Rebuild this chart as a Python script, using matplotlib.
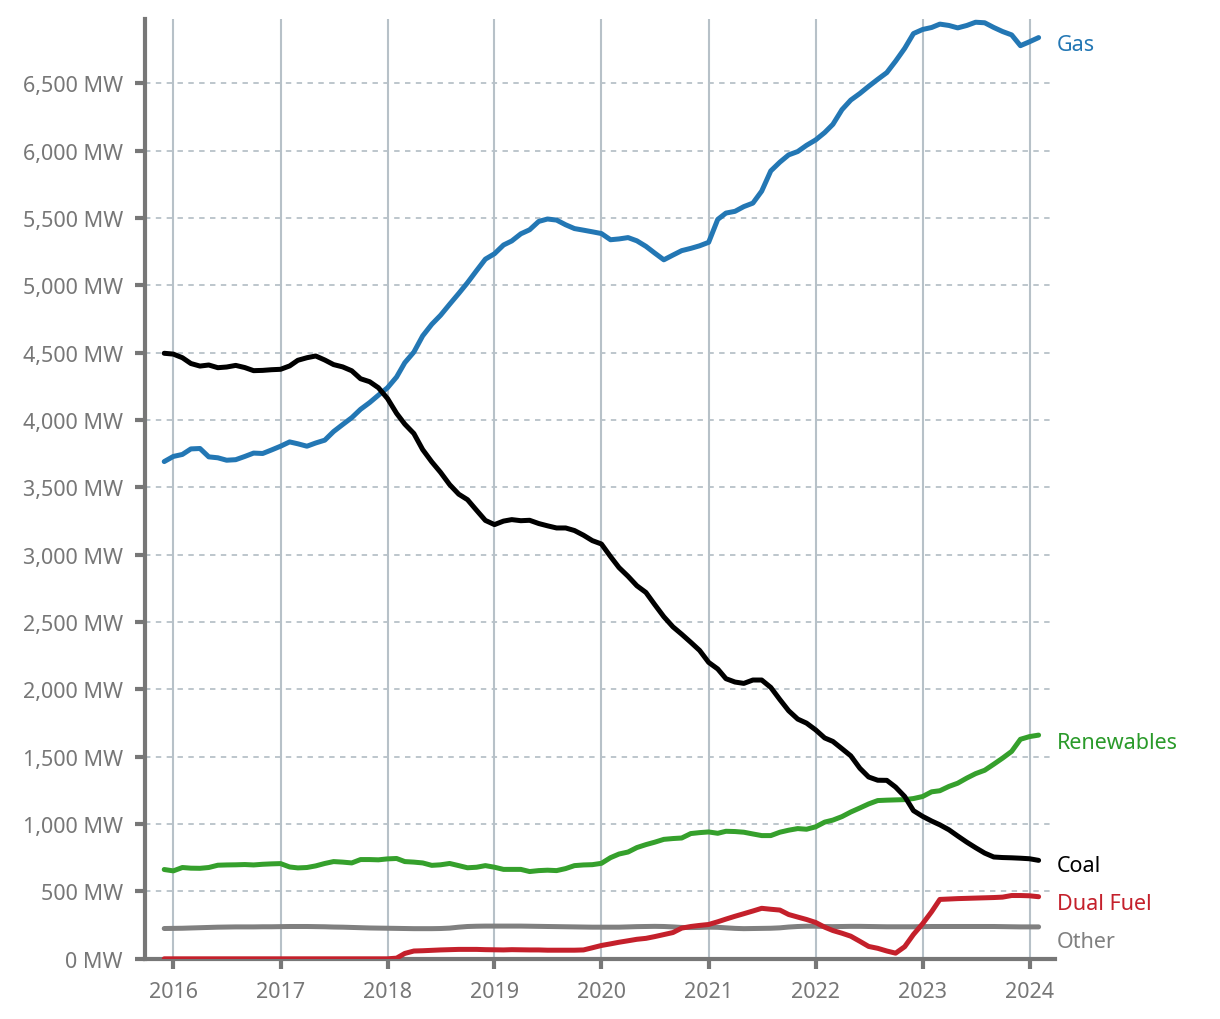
import numpy as np
import pandas as pd
import matplotlib
matplotlib.use("Agg")
from matplotlib import pyplot as plt
from matplotlib.ticker import FuncFormatter
import matplotlib.dates as mdates

plt.rcParams['font.family'] = ['Noto Sans', 'DejaVu Sans']

# monthly capacity, Dec 2015 .. Feb 2024 (MW)
months = pd.date_range("2015-12-01", periods=99, freq="MS")

gas = [3692, 3730, 3745, 3786, 3789, 3727, 3720, 3702, 3706, 3730,
       3755, 3752, 3778, 3806, 3838, 3824, 3806, 3830, 3851, 3915,
       3967, 4018, 4080, 4130, 4185, 4240, 4320, 4426, 4505, 4625,
       4711, 4778, 4860, 4940, 5020, 5110, 5195, 5235, 5300, 5330,
       5383, 5413, 5475, 5493, 5485, 5450, 5422, 5410, 5398, 5385,
       5339, 5345, 5355, 5331, 5290, 5240, 5190, 5225, 5258, 5275,
       5294, 5320, 5490, 5537, 5550, 5585, 5611, 5700, 5850, 5915,
       5969, 5994, 6040, 6080, 6135, 6196, 6305, 6376, 6425, 6478,
       6530, 6580, 6665, 6760, 6870, 6900, 6915, 6940, 6930, 6912,
       6930, 6954, 6950, 6915, 6885, 6860, 6780, 6809, 6840]

coal = [4496, 4490, 4463, 4420, 4401, 4409, 4389, 4394, 4406, 4390,
        4367, 4369, 4374, 4377, 4402, 4444, 4463, 4476, 4446, 4412,
        4395, 4366, 4307, 4285, 4240, 4160, 4050, 3970, 3900, 3781,
        3690, 3612, 3521, 3450, 3409, 3330, 3255, 3224, 3250, 3261,
        3253, 3256, 3232, 3215, 3199, 3199, 3180, 3145, 3105, 3080,
        2987, 2905, 2840, 2770, 2720, 2630, 2540, 2465, 2410, 2350,
        2290, 2201, 2152, 2080, 2055, 2045, 2070, 2070, 2015, 1925,
        1842, 1780, 1750, 1700, 1640, 1614, 1560, 1507, 1415, 1350,
        1326, 1325, 1275, 1205, 1100, 1058, 1023, 995, 958, 912,
        866, 825, 785, 756, 752, 750, 747, 743, 731]

renewables = [663, 653, 678, 673, 672, 678, 695, 697, 698, 700,
              697, 702, 705, 707, 682, 675, 678, 690, 708, 722,
              718, 712, 737, 737, 735, 742, 745, 722, 718, 712,
              694, 698, 708, 692, 676, 680, 692, 680, 664, 664,
              664, 648, 655, 658, 655, 670, 692, 697, 699, 709,
              751, 778, 793, 826, 848, 866, 887, 893, 897, 930,
              937, 942, 932, 947, 945, 940, 927, 915, 915, 940,
              955, 967, 962, 980, 1015, 1030, 1056, 1090, 1120, 1150,
              1175, 1178, 1180, 1182, 1190, 1205, 1240, 1248, 1280, 1304,
              1342, 1375, 1400, 1445, 1490, 1540, 1630, 1650, 1661]

dual_fuel = [0, 0, 0, 0, 0, 0, 0, 0, 0, 0,
             0, 0, 0, 0, 0, 0, 0, 0, 0, 0,
             0, 0, 0, 0, 0, 0, 5, 40, 58, 60,
             63, 66, 68, 70, 70, 70, 68, 67, 66, 68,
             67, 66, 66, 64, 64, 64, 64, 66, 82, 99,
             111, 123, 134, 145, 152, 165, 180, 195, 228, 240,
             248, 255, 275, 295, 316, 335, 355, 375, 368, 362,
             329, 310, 292, 270, 235, 210, 190, 168, 130, 92,
             78, 58, 42, 90, 181, 260, 350, 441, 444, 447,
             449, 451, 453, 455, 458, 470, 470, 468, 461]

other = [225, 226, 227, 229, 231, 233, 235, 236, 237, 237,
         237, 238, 238, 239, 240, 240, 240, 239, 238, 236,
         235, 233, 231, 229, 228, 227, 226, 225, 224, 224,
         224, 225, 228, 235, 240, 242, 243, 243, 243, 243,
         243, 242, 241, 240, 239, 238, 237, 236, 235, 235,
         235, 235, 237, 239, 240, 241, 240, 237, 233, 232,
         233, 235, 234, 230, 226, 224, 225, 226, 227, 230,
         236, 240, 242, 242, 240, 239, 240, 241, 241, 240,
         239, 238, 238, 238, 238, 239, 240, 240, 240, 240,
         240, 240, 240, 240, 239, 238, 237, 237, 237]

# name, values, line colour, label colour, label offset (pt)
series = [
    ("Other", other, "#808080", "#808080", -10.5),
    ("Dual Fuel", dual_fuel, "#c4202b", "#c4202b", -5),
    ("Renewables", renewables, "#35a02c", "#2a9a2a", -5),
    ("Gas", gas, "#2377b4", "#2377b4", -5),
    ("Coal", coal, "#000000", "#000000", -3.5),
]

fig = plt.figure(figsize=(12.2, 10.2), dpi=100)
ax = fig.add_axes([0.119, 0.059, 0.746, 0.921])

for name, vals, col, lcol, dy in series:
    ax.plot(months, vals, color=col, lw=3.6, solid_capstyle="round",
            solid_joinstyle="round", zorder=3)
    ax.annotate(name, xy=(months[-1], vals[-1]), xytext=(13, dy),
                textcoords="offset points", color=lcol, fontsize=15.5,
                va="center", ha="left", annotation_clip=False)

ax.set_xlim(pd.Timestamp("2015-09-27"), pd.Timestamp("2024-03-29"))
ax.set_ylim(0, 6975)

years = [pd.Timestamp(f"{y}-01-01") for y in range(2016, 2025)]
ax.set_xticks(years)
ax.xaxis.set_major_formatter(mdates.DateFormatter("%Y"))
ax.set_yticks(np.arange(0, 7000, 500))
ax.yaxis.set_major_formatter(FuncFormatter(lambda v, p: f"{int(v):,} MW"))

grid_col = "#b7c1c8"
for yr in years:
    ax.axvline(yr, color=grid_col, lw=1.5, zorder=1)
for v in np.arange(500, 7000, 500):
    ax.axhline(v, color=grid_col, lw=1.3, ls=(0, (3, 3)), zorder=1)

for s in ["top", "right"]:
    ax.spines[s].set_visible(False)
for s in ["left", "bottom"]:
    ax.spines[s].set_color("#777777")
    ax.spines[s].set_linewidth(3)

ax.tick_params(axis="both", colors="#777777", width=3, length=7,
               labelsize=15.5, labelcolor="#777777")
ax.tick_params(axis="y", pad=9)
ax.tick_params(axis="x", pad=9)

fig.savefig("out.png", dpi=100)
